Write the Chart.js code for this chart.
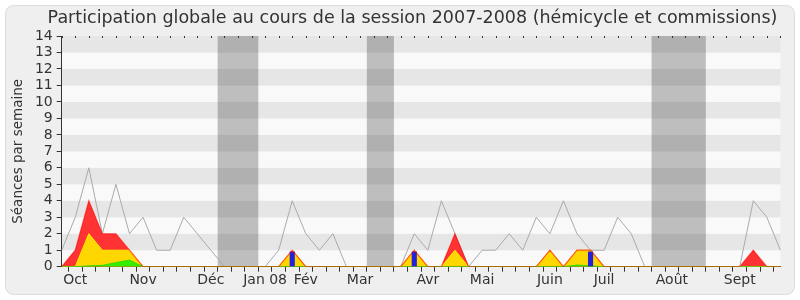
<!DOCTYPE html>
<html>
<head>
<meta charset="utf-8">
<script src="https://cdn.jsdelivr.net/npm/chart.js@4/dist/chart.umd.min.js"></script>
<style>
html,body{margin:0;padding:0;background:#ffffff;}
#wrap{position:relative;width:800px;height:300px;}
</style>
</head>
<body>
<div id="wrap"><canvas id="c" width="800" height="300"></canvas></div>
<script>
// ---- data ----
const titleText = 'Participation globale au cours de la session 2007-2008 (hémicycle et commissions)';
const yTitle = 'Séances par semaine';
const weekCount = 54;
const monthNames = ['Oct','Nov','Déc','Jan 08','Fév','Mar','Avr','Mai','Juin','Juil','Août','Sept'];
const monthWeeks = [1,6,11,15,18,22,27,31,36,40,45,50];
const vacations = [[12,14],[23,24],[44,47]];
const yTicks = [0,1,2,3,4,5,6,7,8,9,10,11,12,13,14];

// grey line: median participation
const mediane = [1,3,6,2,5,2,3,1,1,3,2,1,0,null,null,0,1,4,2,1,2,0,null,null,null,0,2,1,4,2,0,1,1,2,1,3,2,4,2,1,1,3,2,0,null,null,null,null,null,null,0,4,3,1];
// red: total sessions with presence
const totalPresence = [0,1,4,2,2,1,0,0,0,0,0,0,0,0,0,0,0,1,0,0,0,0,0,0,0,0,1,0,0,2,0,0,0,0,0,0,1,0,1,1,0,0,0,0,0,0,0,0,0,0,0,1,0,0];
// yellow: commission presence
const commission = [0,0,2,1,1,1,0,0,0,0,0,0,0,0,0,0,0,1,0,0,0,0,0,0,0,0,1,0,0,1,0,0,0,0,0,0,1,0,1,1,0,0,0,0,0,0,0,0,0,0,0,0,0,0];
// green: small contribution
const green = [0,0,0.05,0.08,0.25,0.4,0,0,0,0,0,0,0,0,0,0,0,0,0,0,0,0,0,0,0,0,0,0,0,0,0,0,0,0,0,0,0,0,0.1,0.05,0,0,0,0,0,0,0,0,0,0,0,0,0,0];
// blue bars
const interventions = [null,null,null,null,null,null,null,null,null,null,null,null,null,null,null,null,null,0.9,null,null,null,null,null,null,null,null,0.9,null,null,null,null,null,null,null,null,null,null,null,null,0.9,null,null,null,null,null,null,null,null,null,null,null,null,null,null];

const labels = [];
for (let i = 0; i < weekCount; i++) {
  const k = monthWeeks.indexOf(i);
  labels.push(k >= 0 ? monthNames[k] : '');
}

const FONT = "'DejaVu Sans', Verdana, sans-serif";

const bgPlugin = {
  id: 'bg',
  beforeDraw(chart) {
    const ctx = chart.ctx;
    const {left, right, top, bottom} = chart.chartArea;
    const y = chart.scales.y, x = chart.scales.x;
    ctx.save();
    const r = 8, fx = 5.5, fy = 5.5, fw = 789, fh = 289;
    ctx.beginPath();
    ctx.moveTo(fx + r, fy);
    ctx.arcTo(fx + fw, fy, fx + fw, fy + fh, r);
    ctx.arcTo(fx + fw, fy + fh, fx, fy + fh, r);
    ctx.arcTo(fx, fy + fh, fx, fy, r);
    ctx.arcTo(fx, fy, fx + fw, fy, r);
    ctx.closePath();
    ctx.fillStyle = '#efefef';
    ctx.fill();
    ctx.strokeStyle = '#dcdcdc';
    ctx.lineWidth = 1;
    ctx.stroke();
    for (let v = 0; v < yTicks[yTicks.length - 1]; v++) {
      const y0 = y.getPixelForValue(v), y1 = y.getPixelForValue(v + 1);
      ctx.fillStyle = (v % 2 === 1) ? '#e6e6e6' : '#f9f9f9';
      ctx.fillRect(left, y1, right - left, y0 - y1);
    }
    ctx.fillStyle = 'rgba(0,0,0,0.235)';
    vacations.forEach(([a, b]) => {
      const x0 = x.getPixelForValue(a - 0.5), x1 = x.getPixelForValue(b + 0.5);
      ctx.fillRect(x0, top, x1 - x0, bottom - top);
    });
    // title
    ctx.fillStyle = '#333333';
    ctx.font = "17.5px " + FONT;
    ctx.textAlign = 'center';
    ctx.textBaseline = 'middle';
    ctx.fillText(titleText, 412.5, 18);
    ctx.restore();
  },
  afterDatasetsDraw(chart) {
    const ctx = chart.ctx;
    const {top} = chart.chartArea;
    const x = chart.scales.x;
    ctx.save();
    ctx.strokeStyle = '#333';
    ctx.lineWidth = 1;
    ctx.beginPath();
    for (let i = 0; i < weekCount; i++) {
      const px = Math.round(x.getPixelForValue(i)) + 0.5;
      ctx.moveTo(px, top);
      ctx.lineTo(px, top + 2);
    }
    ctx.stroke();
    ctx.restore();
  }
};

new Chart(document.getElementById('c'), {
  type: 'line',
  data: {
    labels: labels,
    datasets: [
      { label: 'Médiane', data: mediane, borderColor: '#aaaaaa', borderWidth: 1, pointRadius: 0, fill: false, spanGaps: false, order: 6 },
      { label: 'Total', data: totalPresence, borderColor: 'rgba(0,0,0,0)', borderWidth: 0, backgroundColor: '#ff3333', pointRadius: 0, fill: 'origin', order: 5 },
      { label: 'Commission', data: commission, borderColor: '#ffee00', borderWidth: 1, backgroundColor: '#ffd700', pointRadius: 0, fill: 'origin', order: 4 },
      { label: 'Vert', data: green, borderColor: '#33dd00', borderWidth: 1, backgroundColor: '#33ee00', pointRadius: 0, fill: 'origin', order: 3 },
      { type: 'bar', label: 'Interventions', data: interventions, backgroundColor: '#2222dd', barThickness: 4.5, order: 2 },
      { label: 'TotalLine', data: totalPresence, borderColor: 'rgba(255,0,0,0.6)', borderWidth: 1.2, pointRadius: 0, fill: false, order: 1 }
    ]
  },
  options: {
    responsive: false,
    animation: false,
    events: [],
    layout: { padding: { left: 0, right: 19.6, top: 36, bottom: 0 } },
    plugins: {
      legend: { display: false },
      tooltip: { enabled: false },
      title: { display: false }
    },
    scales: {
      x: {
        type: 'category',
        offset: false,
        z: 1,
        afterFit(s) { s.height = 33.3; },
        border: { display: true, color: '#4a2418', width: 1 },
        grid: { display: true, drawOnChartArea: false, drawTicks: true, tickLength: 5, color: '#333333' },
        ticks: { autoSkip: false, maxRotation: 0, minRotation: 0, padding: 0, color: '#333333', font: { family: FONT, size: 14 } }
      },
      y: {
        min: 0, max: 14,
        afterFit(s) { s.width = 61.7; },
        afterBuildTicks(s) { s.ticks = yTicks.map(v => ({ value: v })); },
        border: { display: true, color: '#333333', width: 1 },
        grid: { display: true, drawOnChartArea: false, drawTicks: true, tickLength: 5, color: '#333333' },
        ticks: { autoSkip: false, padding: 4, color: '#333333', font: { family: FONT, size: 14 } },
        title: { display: true, text: yTitle, color: '#333333', font: { family: FONT, size: 13.5 }, padding: { top: 10, bottom: 0 } }
      }
    }
  },
  plugins: [bgPlugin]
});
</script>
</body>
</html>
